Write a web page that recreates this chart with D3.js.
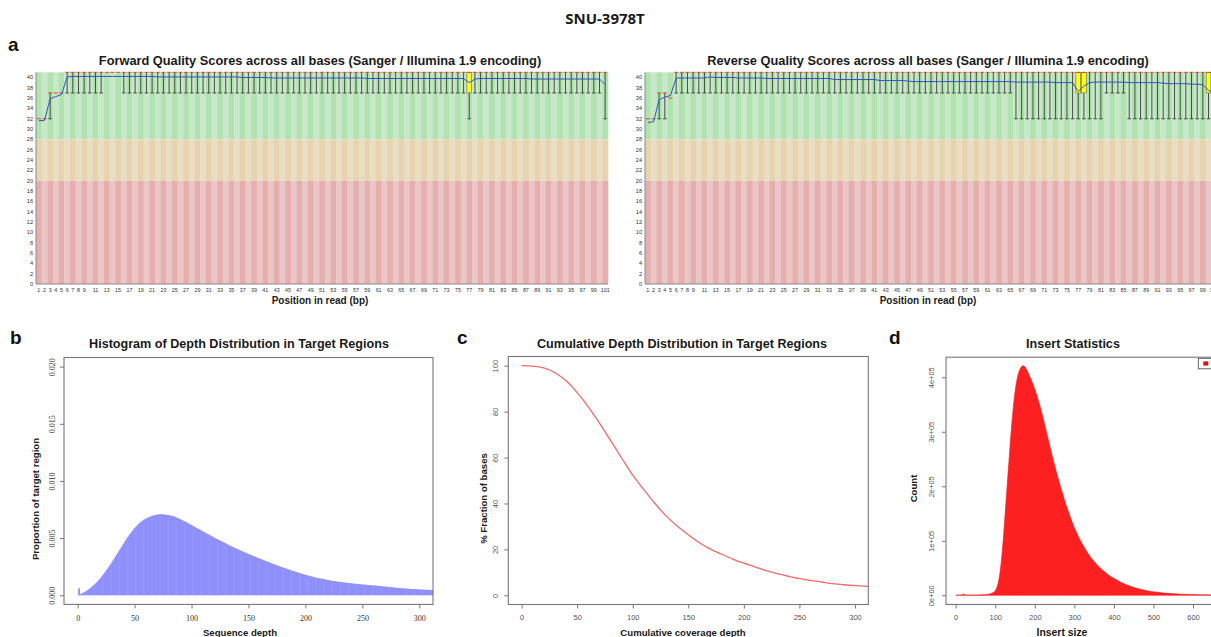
<!DOCTYPE html>
<html>
<head>
<meta charset="utf-8">
<title>SNU-3978T sequencing QC</title>
<script src="https://cdn.jsdelivr.net/npm/d3@7/dist/d3.min.js"></script>
<style>
  html, body { margin: 0; padding: 0; background: #fff; }
  svg { display: block; }
</style>
</head>
<body>
<svg id="figure" width="1211" height="637"></svg>
<script>
// ---------------------------------------------------------------
// Data
// ---------------------------------------------------------------

// Per-base quality (positions 1..101)
const readPositions = d3.range(1, 102);
const positionTickLabels = [1,2,3,4,5,6,7,8,9,11,13,15,17,19,21,23,25,27,29,31,33,35,37,39,41,43,45,47,49,
  51,53,55,57,59,61,63,65,67,69,71,73,75,77,79,81,83,85,87,89,91,93,95,97,99,101];
const qualityTicks = [0,2,4,6,8,10,12,14,16,18,20,22,24,26,28,30,32,34,36,38,40];
const qualityZones = [
  { name: "good", lo: 28, hi: 41 },
  { name: "ok",   lo: 20, hi: 28 },
  { name: "bad",  lo: 0,  hi: 20 }
];

const fwdMean = [
  31.6,31.7,35.9,36.3,36.7,40.1,40.2,40.2,40.2,40.2,
  40.2,40.2,40.2,40.2,40.2,40.2,40.2,40.2,40.2,40.2,
  40.2,40.1,40.1,40.1,40.1,40.1,40.1,40.1,40.1,40.1,
  40.1,40.1,40.1,40.1,40.1,40.1,40.0,40.0,40.0,40.0,
  40.0,39.9,39.9,39.9,39.9,39.9,39.9,39.9,39.9,39.9,
  39.9,39.9,39.9,39.9,39.9,39.9,39.9,39.9,39.8,39.8,
  39.8,39.8,39.8,39.8,39.8,39.8,39.8,39.8,39.8,39.8,
  39.8,39.8,39.8,39.8,39.8,39.8,39.0,39.7,39.8,39.8,
  39.8,39.8,39.8,39.8,39.8,39.8,39.8,39.7,39.7,39.7,
  39.7,39.7,39.7,39.7,39.7,39.7,39.7,39.7,39.7,39.7,
  38.6];
const fwdMedian = [
  32,32,37,37,37,41,41,41,41,41, 41,41,41,41,41,41,41,41,41,41,
  41,41,41,41,41,41,41,41,41,41, 41,41,41,41,41,41,41,41,41,41,
  41,41,41,41,41,41,41,41,41,41, 41,41,41,41,41,41,41,41,41,41,
  41,41,41,41,41,41,41,41,41,41, 41,41,41,41,41,41,41,41,41,41,
  41,41,41,41,41,41,41,41,41,41, 41,41,41,41,41,41,41,41,41,41, 41];
const fwdQ1 = [
  32,32,37,37,37,41,41,41,41,41, 41,41,41,41,41,41,41,41,41,41,
  41,41,41,41,41,41,41,41,41,41, 41,41,41,41,41,41,41,41,41,41,
  41,41,41,41,41,41,41,41,41,41, 41,41,41,41,41,41,41,41,41,41,
  41,41,41,41,41,41,41,41,41,41, 41,41,41,41,41,41,37,41,41,41,
  41,41,41,41,41,41,41,41,41,41, 41,41,41,41,41,41,41,41,41,41, 41];
const fwdQ3 = [
  32,32,37,37,37,41,41,41,41,41, 41,41,41,41,41,41,41,41,41,41,
  41,41,41,41,41,41,41,41,41,41, 41,41,41,41,41,41,41,41,41,41,
  41,41,41,41,41,41,41,41,41,41, 41,41,41,41,41,41,41,41,41,41,
  41,41,41,41,41,41,41,41,41,41, 41,41,41,41,41,41,41,41,41,41,
  41,41,41,41,41,41,41,41,41,41, 41,41,41,41,41,41,41,41,41,41, 41];
const fwdP10 = [
  32,32,32,37,37,37,37,37,37,37, 37,37,41,41,41,37,37,37,37,37,
  37,37,37,37,37,37,37,37,37,37, 37,37,37,37,37,37,37,37,37,37,
  37,37,37,37,37,37,37,37,37,37, 37,37,37,37,37,37,37,37,37,37,
  37,37,37,37,37,37,37,37,37,37, 37,37,37,37,37,37,32,37,37,37,
  37,37,37,37,37,37,37,37,37,37, 37,37,37,37,37,37,37,37,37,37, 32];
const fwdP90 = fwdQ3.slice();

const revMean = [
  31.3,31.4,35.7,36.2,36.5,39.9,39.9,39.9,39.9,39.9,
  39.9,40.1,40.0,40.0,40.0,40.0,39.9,39.9,39.9,39.9,
  39.9,39.8,39.8,39.8,39.8,39.8,39.8,39.8,39.8,39.8,
  39.8,39.8,39.8,39.6,39.6,39.6,39.6,39.6,39.6,39.6,
  39.6,39.4,39.4,39.4,39.4,39.4,39.3,39.2,39.2,39.2,
  39.2,39.2,39.2,39.2,39.2,39.2,39.2,39.2,39.2,39.2,
  39.2,39.2,39.2,39.2,39.2,39.1,39.1,39.1,39.1,39.1,
  39.1,39.1,39.0,39.0,39.0,39.0,37.3,38.3,39.0,39.1,
  39.1,39.1,39.1,39.1,39.1,39.0,39.0,39.0,39.0,39.0,
  39.0,38.9,38.8,38.8,38.8,38.8,38.7,38.7,38.6,37.5,
  37.0];
const revMedian = [
  32,32,37,37,36,41,41,41,41,41, 41,41,41,41,41,41,41,41,41,41,
  41,41,41,41,41,41,41,41,41,41, 41,41,41,41,41,41,41,41,41,41,
  41,41,41,41,41,41,41,41,41,41, 41,41,41,41,41,41,41,41,41,41,
  41,41,41,41,41,41,41,41,41,41, 41,41,41,41,41,41,41,41,41,41,
  41,41,41,41,41,41,41,41,41,41, 41,41,41,41,41,41,41,41,41,41, 41];
const revQ1 = [
  32,32,37,37,36,41,41,41,41,41, 41,41,41,41,41,41,41,41,41,41,
  41,41,41,41,41,41,41,41,41,41, 41,41,41,41,41,41,41,41,41,41,
  41,41,41,41,41,41,41,41,41,41, 41,41,41,41,41,41,41,41,41,41,
  41,41,41,41,41,41,41,41,41,41, 41,41,41,41,41,41,37,37,41,41,
  41,41,41,41,41,41,41,41,41,41, 41,41,41,41,41,41,41,41,41,37, 37];
const revQ3 = [
  32,32,37,37,36,41,41,41,41,41, 41,41,41,41,41,41,41,41,41,41,
  41,41,41,41,41,41,41,41,41,41, 41,41,41,41,41,41,41,41,41,41,
  41,41,41,41,41,41,41,41,41,41, 41,41,41,41,41,41,41,41,41,41,
  41,41,41,41,41,41,41,41,41,41, 41,41,41,41,41,41,41,41,41,41,
  41,41,41,41,41,41,41,41,41,41, 41,41,41,41,41,41,41,41,41,41, 41];
const revP10 = [
  32,32,32,32,36,37,37,37,37,37, 37,37,37,37,37,37,37,37,37,37,
  37,37,37,37,37,37,37,37,37,37, 37,37,37,37,37,37,37,37,37,37,
  37,37,37,37,37,37,37,37,37,37, 37,37,37,37,37,37,37,37,37,37,
  37,37,37,37,37,32,32,32,32,32, 32,32,32,32,32,32,32,32,32,32,
  32,37,37,37,37,32,32,32,32,32, 32,32,32,32,32,32,32,32,32,32, 32];
const revP90 = revQ3.slice();

// Depth histogram: proportion of target region (x 1e-5) for depth 0..312
const depthProportion1e5 = [
  4,62,10,14,18,23,28,34,40,47,
  55,63,71,80,89,98,108,118,129,140,
  152,164,177,190,203,217,231,245,260,275,
  290,305,321,337,353,369,385,401,417,433,
  449,465,480,495,510,524,538,551,564,576,
  588,599,610,620,629,638,646,653,660,666,
  672,677,682,686,690,694,697,700,702,704,
  706,707,708,708,708,707,706,705,704,702,
  700,698,696,693,690,686,682,678,674,669,
  664,659,654,649,644,639,634,628,623,617,
  612,606,601,595,590,584,579,573,568,562,
  557,551,546,540,535,529,524,518,513,508,
  502,497,492,487,482,477,472,467,462,457,
  452,447,442,437,432,427,423,418,413,408,
  404,399,395,390,386,381,377,373,368,364,
  360,356,352,347,343,339,335,331,327,323,
  319,315,311,307,303,299,295,291,287,283,
  279,275,271,268,264,260,256,253,249,246,
  242,239,235,232,228,225,222,218,215,212,
  209,205,202,199,196,193,190,187,184,181,
  178,175,173,170,167,164,162,159,157,154,
  152,150,148,146,144,142,140,138,136,134,
  132,130,128,127,125,124,122,121,119,118,
  116,115,114,112,111,110,109,107,106,105,
  104,103,102,101,100,99,98,97,96,95,
  94,93,92,91,90,89,88,87,86,86,
  85,84,83,82,81,80,79,78,77,76,
  75,74,73,72,71,70,69,68,67,66,
  65,64,63,62,61,61,60,59,58,58,
  57,56,55,55,54,53,53,52,51,51,
  50,50,49,49,48,48,48,47,47,47,
  46,46,46];
const depthTicks = [0, 50, 100, 150, 200, 250, 300];
const proportionTicks = [0, 0.005, 0.010, 0.015, 0.020];

// Cumulative coverage (% of bases with at least the given depth)
const coverageDepth = [0,10,20,30,40,50,60,70,80,90,100,110,120,130,140,150,160,170,180,190,
  200,210,220,230,240,250,260,270,280,290,300,310,312];
const coveragePct = [100,99.8,99.0,96.9,93.4,88.3,82.1,75.0,67.5,59.8,52.3,46.0,40.0,34.6,30.2,26.4,22.9,20.1,17.9,15.8,
  14.0,12.4,10.7,9.4,8.3,7.3,6.5,5.8,5.1,4.6,4.2,3.9,3.85];
const pctTicks = [0, 20, 40, 60, 80, 100];

// Insert size histogram (5 bp bins), counts in thousands
const insertSize = [0,5,10,15,20,25,30,35,40,45,50,55,60,65,70,75,80,85,90,95,
  100,105,110,115,120,125,130,135,140,145,150,155,160,165,170,175,180,185,190,195,
  200,205,210,215,220,225,230,235,240,245,250,255,260,265,270,275,280,285,290,295,
  300,305,310,315,320,325,330,335,340,345,350,355,360,365,370,375,380,385,390,395,
  400,405,410,415,420,425,430,435,440,445,450,455,460,465,470,475,480,485,490,495,
  500,505,510,515,520,525,530,535,540,545,550,555,560,565,570,575,580,585,590,595,
  600,605,610,615,620,625,630,635,640,645,650,655,660,665,670,675,680,685,690,695,700];
const insertCountK = [0.2,0.2,0.3,0.5,2.5,0.5,0.4,0.4,0.4,0.5,0.5,0.6,0.7,0.8,1.0,1.2,1.6,2.2,3.2,5,
  8,16,32,60,100,150,200,250,298,340,373,396,410,418,421,419,413,405,397,388,
  378,367,355,342,328,313,298,283,268,253,239,225,212,199,187,175,164,153,143,133,
  124,116,108,101,94,88,82,76,71,66,62,58,54,50,47,44,41,38,35,33,
  31,29,27,25,23,21.5,20,18.5,17,16,14.5,13.5,12.5,11.5,10.5,9.8,9.0,8.3,7.6,7.0,
  6.5,6.0,5.5,5.1,4.7,4.3,4.0,3.7,3.4,3.1,2.9,2.7,2.5,2.3,2.1,2.0,1.8,1.7,1.6,1.5,
  1.4,1.3,1.2,1.1,1.0,0.95,0.9,0.85,0.8,0.75,0.7,0.65,0.6,0.58,0.55,0.52,0.5,0.48,0.46,0.44,0.42];
const insertTicks = [0, 100, 200, 300, 400, 500, 600];
const countTicks = [0, 100000, 200000, 300000, 400000];

// ---------------------------------------------------------------
// Drawing
// ---------------------------------------------------------------
const SANS = '"Liberation Sans", Arial, Helvetica, sans-serif';
const SERIF = '"Liberation Serif", "Times New Roman", serif';
const svg = d3.select("#figure");

function label(txt, x, y, size, opts = {}) {
  const t = svg.append("text")
    .attr("x", x).attr("y", y)
    .attr("font-family", opts.family || SANS)
    .attr("font-size", size)
    .attr("font-weight", opts.weight || "bold")
    .attr("fill", opts.fill || "#1a1a1a")
    .attr("text-anchor", opts.anchor || "middle")
    .text(txt);
  if (opts.rotate) t.attr("transform", `rotate(-90,${x},${y})`);
  return t;
}

// Figure title and panel letters
label("SNU-3978T", 605, 24, 15, { family: '"Noto Sans", "Liberation Sans", sans-serif' });
label("a", 8, 51, 19, { anchor: "start", fill: "#111" });
label("b", 10, 343.5, 19, { anchor: "start", fill: "#111" });
label("c", 457, 343.5, 19, { anchor: "start", fill: "#111" });
label("d", 889, 343.5, 19, { anchor: "start", fill: "#111" });

// ---------- Per-base sequence quality boxplots ----------
const zoneFill = {
  good: ["#b0e3b0", "#c9e8c9"],
  ok:   ["#e5d4ad", "#e9ddc3"],
  bad:  ["#e5afaf", "#ebc6c6"]
};

function drawPerBaseQuality(cfg) {
  const { left, right, titleX, title, stats } = cfg;
  const top = 72.3, bottom = 284;
  const x = d3.scaleBand().domain(readPositions).range([left, right]);
  const y = d3.scaleLinear().domain([0, 41]).range([bottom, top]);
  const bw = x.bandwidth();
  const g = svg.append("g");

  const cells = [];
  readPositions.forEach((p, i) => qualityZones.forEach(z => cells.push({ p, i, z })));
  g.selectAll("rect.bg").data(cells).join("rect").attr("class", "bg")
    .attr("x", d => x(d.p)).attr("width", bw + 0.3)
    .attr("y", d => y(d.z.hi)).attr("height", d => y(d.z.lo) - y(d.z.hi))
    .attr("fill", d => zoneFill[d.z.name][d.i % 2]);

  const rows = readPositions.map((p, i) => ({
    p, cx: x(p) + bw / 2,
    mean: stats.mean[i], median: stats.median[i],
    q1: stats.q1[i], q3: stats.q3[i], lo: stats.p10[i], hi: stats.p90[i]
  }));

  // whiskers (10th - 90th percentile)
  const wg = g.append("g").attr("stroke", "#3a3a3a").attr("stroke-width", 0.9);
  rows.forEach(r => {
    if (r.lo < r.q1) {
      wg.append("line").attr("x1", r.cx).attr("x2", r.cx).attr("y1", y(r.lo)).attr("y2", y(r.q1));
      wg.append("line").attr("x1", r.cx - bw * 0.32).attr("x2", r.cx + bw * 0.32)
        .attr("y1", y(r.lo)).attr("y2", y(r.lo));
    }
    if (r.hi > r.q3) {
      wg.append("line").attr("x1", r.cx).attr("x2", r.cx).attr("y1", y(r.q3)).attr("y2", y(r.hi));
      wg.append("line").attr("x1", r.cx - bw * 0.32).attr("x2", r.cx + bw * 0.32)
        .attr("y1", y(r.hi)).attr("y2", y(r.hi));
    }
  });

  // inter-quartile boxes
  g.selectAll("rect.box").data(rows.filter(r => r.q3 > r.q1)).join("rect").attr("class", "box")
    .attr("x", r => r.cx - bw * 0.42).attr("width", bw * 0.84)
    .attr("y", r => y(r.q3)).attr("height", r => y(r.q1) - y(r.q3))
    .attr("fill", "#ffff14").attr("stroke", "#6b6b3a").attr("stroke-width", 0.6);

  // medians
  g.selectAll("line.med").data(rows).join("line").attr("class", "med")
    .attr("x1", r => r.cx - bw * 0.36).attr("x2", r => r.cx + bw * 0.36)
    .attr("y1", r => y(r.median)).attr("y2", r => y(r.median))
    .attr("stroke", "#d8452c").attr("stroke-width", 1);

  // mean line
  g.append("path").datum(rows)
    .attr("fill", "none").attr("stroke", "#3352c6").attr("stroke-width", 1)
    .attr("d", d3.line().x(r => r.cx).y(r => y(r.mean)));

  // axis lines
  g.append("line").attr("x1", left).attr("x2", left).attr("y1", top).attr("y2", bottom)
    .attr("stroke", "#8a8a8a").attr("stroke-width", 1);
  g.append("line").attr("x1", left).attr("x2", right).attr("y1", bottom).attr("y2", bottom)
    .attr("stroke", "#8a8a8a").attr("stroke-width", 1);

  g.selectAll("text.yt").data(qualityTicks).join("text").attr("class", "yt")
    .attr("x", left - 3).attr("y", t => y(t)).attr("dy", "0.35em")
    .attr("text-anchor", "end").attr("font-family", SANS).attr("font-size", 5.6)
    .attr("fill", "#333").text(t => t);
  g.selectAll("text.xt").data(positionTickLabels).join("text").attr("class", "xt")
    .attr("x", p => x(p) + bw / 2).attr("y", 292)
    .attr("text-anchor", "middle").attr("font-family", SANS).attr("font-size", 5.4)
    .attr("fill", "#333").text(p => p);

  label(title, titleX, 64.5, 12.8);
  label("Position in read (bp)", titleX, 303.5, 10);
}

drawPerBaseQuality({
  left: 36, right: 608, titleX: 320,
  title: "Forward Quality Scores across all bases (Sanger / Illumina 1.9 encoding)",
  stats: { mean: fwdMean, median: fwdMedian, q1: fwdQ1, q3: fwdQ3, p10: fwdP10, p90: fwdP90 }
});
drawPerBaseQuality({
  left: 645, right: 1217, titleX: 928,
  title: "Reverse Quality Scores across all bases (Sanger / Illumina 1.9 encoding)",
  stats: { mean: revMean, median: revMedian, q1: revQ1, q3: revQ3, p10: revP10, p90: revP90 }
});

// ---------- R-style framed panels ----------
function drawFrame(cfg) {
  const { id, x, y, xTicks, yTicks, xFmt, yFmt, family, size, color, xGap, yGap } = cfg;
  const [x0, x1] = x.range();
  const [yb, yt] = y.range();
  const g = svg.append("g");

  svg.append("clipPath").attr("id", id)
    .append("rect").attr("x", x0).attr("y", yt).attr("width", x1 - x0).attr("height", yb - yt);

  const xa = g.append("g").attr("transform", `translate(0,${yb})`)
    .call(d3.axisBottom(x).tickValues(xTicks).tickSize(4).tickSizeOuter(0).tickFormat(xFmt));
  const ya = g.append("g").attr("transform", `translate(${x0},0)`)
    .call(d3.axisLeft(y).tickValues(yTicks).tickSize(4).tickSizeOuter(0).tickFormat(yFmt));
  [xa, ya].forEach(a => {
    a.select(".domain").remove();
    a.attr("font-family", family).attr("font-size", size);
    a.selectAll(".tick line").attr("stroke", "#777");
    a.selectAll(".tick text").attr("fill", color);
  });
  xa.selectAll(".tick text").attr("y", xGap).attr("dy", "0.35em");
  ya.selectAll(".tick text")
    .attr("x", 0).attr("y", -yGap).attr("dy", "0.35em")
    .attr("text-anchor", "middle").attr("transform", "rotate(-90)");

  const plot = svg.append("g").attr("clip-path", `url(#${id})`);
  const border = svg.append("rect")
    .attr("x", x0).attr("y", yt).attr("width", x1 - x0).attr("height", yb - yt)
    .attr("fill", "none").attr("stroke", "#777").attr("stroke-width", 1.1);
  return { plot, border };
}

// Panel b: depth histogram
{
  const x = d3.scaleLinear().domain([-12, 312]).range([64, 433]);
  const y = d3.scaleLinear().domain([-0.0008, 0.0208]).range([604.4, 357.5]);
  const { plot } = drawFrame({
    id: "clipB", x, y, xTicks: depthTicks, yTicks: proportionTicks,
    xFmt: d3.format("d"), yFmt: d3.format(".3f"),
    family: SERIF, size: 8, color: "#333", xGap: 13.4, yGap: 12.3
  });
  const w = x(1) - x(0);
  plot.selectAll("rect").data(depthProportion1e5).join("rect")
    .attr("x", (v, i) => x(i - 0.5)).attr("width", w + 0.6)
    .attr("y", v => y(v / 1e5)).attr("height", v => y(0) - y(v / 1e5))
    .attr("fill", "#9090fb");
  label("Histogram of Depth Distribution in Target Regions", 239, 347.5, 12.6);
  label("Sequence depth", 240, 636, 9.6);
  label("Proportion of target region", 38.5, 499, 9.6, { rotate: true });
}

// Panel c: cumulative depth
{
  const x = d3.scaleLinear().domain([-12, 312]).range([508.3, 868.3]);
  const y = d3.scaleLinear().domain([-4, 104]).range([604.5, 356.5]);
  const { plot } = drawFrame({
    id: "clipC", x, y, xTicks: depthTicks, yTicks: pctTicks,
    xFmt: d3.format("d"), yFmt: d3.format("d"),
    family: SANS, size: 7.5, color: "#555", xGap: 12.7, yGap: 13.3
  });
  const pts = coverageDepth.map((d, i) => [d, coveragePct[i]]);
  plot.append("path").datum(pts)
    .attr("fill", "none").attr("stroke", "#f06a6a").attr("stroke-width", 1.3)
    .attr("d", d3.line().x(d => x(d[0])).y(d => y(d[1])).curve(d3.curveMonotoneX));
  label("Cumulative Depth Distribution in Target Regions", 682, 347.5, 12.6);
  label("Cumulative coverage depth", 683, 636, 9.6);
  label("% Fraction of bases", 486.5, 498.5, 9.6, { rotate: true });
}

// Panel d: insert size
{
  const x = d3.scaleLinear().domain([-24.5, 782]).range([946, 1265]);
  const y = d3.scaleLinear().domain([-16800, 436800]).range([604.46, 357.2]);
  const sciFmt = v => v === 0 ? "0e+00" : `${v / 1e5}e+05`;
  const { plot } = drawFrame({
    id: "clipD", x, y, xTicks: insertTicks, yTicks: countTicks,
    xFmt: d3.format("d"), yFmt: sciFmt,
    family: SANS, size: 7.5, color: "#555", xGap: 12.5, yGap: 14.3
  });
  const pts = insertSize.map((s, i) => [s, insertCountK[i] * 1000]);
  plot.append("path").datum(pts)
    .attr("fill", "#fd2020").attr("stroke", "#f01a1a").attr("stroke-width", 0.6)
    .attr("d", d3.area().x(d => x(d[0])).y0(y(0)).y1(d => y(d[1])).curve(d3.curveMonotoneX));
  // legend (top right)
  plot.append("rect").attr("x", 1198.3).attr("y", 358.3).attr("width", 70).attr("height", 10.5)
    .attr("fill", "#fff").attr("stroke", "#555").attr("stroke-width", 0.9);
  plot.append("rect").attr("x", 1203.3).attr("y", 361.4).attr("width", 5).attr("height", 4.2)
    .attr("fill", "#d81212");
  label("Insert Statistics", 1073, 347.5, 12.6);
  label("Insert size", 1062, 636, 10.4);
  label("Count", 916.5, 488.5, 9.6, { rotate: true });
}
</script>
</body>
</html>
